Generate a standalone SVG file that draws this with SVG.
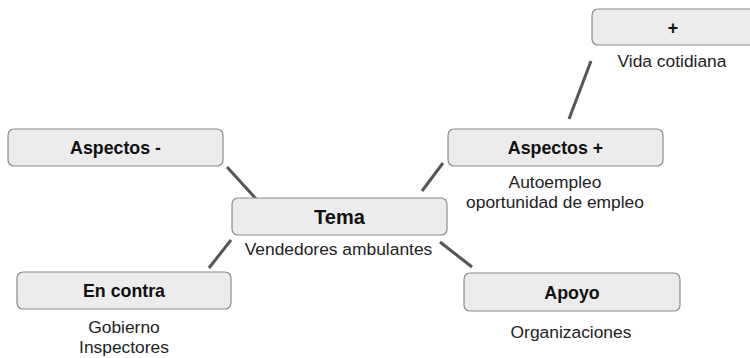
<svg xmlns="http://www.w3.org/2000/svg" width="750" height="358" viewBox="0 0 750 358">
<style>
.box{fill:#ececec;stroke:#8c8c8c;stroke-width:1.2}
.lbl{font-family:"Liberation Sans",Arial,sans-serif;font-weight:bold;font-size:17.8px;fill:#111;text-anchor:middle}
.sub{font-family:"Liberation Sans",Arial,sans-serif;font-size:17.4px;fill:#222;text-anchor:middle}
.con line{stroke:#555;stroke-width:3;stroke-linecap:butt}
</style>
<rect width="750" height="358" fill="#fff"/>
<g class="con" id="connectors">
<line x1="227" y1="167" x2="258" y2="201"/>
<line x1="422" y1="191" x2="443" y2="163"/>
<line x1="569" y1="119" x2="591" y2="61"/>
<line x1="209" y1="268" x2="231" y2="240"/>
<line x1="440" y1="242" x2="472" y2="267"/>
</g>
<g id="tema">
<rect class="box" x="232" y="198" width="215" height="37" rx="6"/>
<text class="lbl" x="339.5" y="224" style="font-size:20px">Tema</text>
<text class="sub" x="338.5" y="255">Vendedores ambulantes</text>
</g>
<g id="aspectos-neg">
<rect class="box" x="8" y="129" width="215" height="37" rx="6"/>
<text class="lbl" x="115.5" y="153.5">Aspectos -</text>
</g>
<g id="aspectos-pos">
<rect class="box" x="448" y="129" width="215" height="37" rx="6"/>
<text class="lbl" x="555.5" y="154">Aspectos +</text>
<text class="sub" x="555" y="188">Autoempleo</text>
<text class="sub" x="555" y="207.5">oportunidad de empleo</text>
</g>
<g id="plus">
<rect class="box" x="592" y="9" width="164" height="36" rx="6"/>
<text class="lbl" x="673" y="33.5">+</text>
<text class="sub" x="672" y="67">Vida cotidiana</text>
</g>
<g id="en-contra">
<rect class="box" x="17" y="272" width="214" height="37" rx="6"/>
<text class="lbl" x="124" y="296.5">En contra</text>
<text class="sub" x="124" y="333">Gobierno</text>
<text class="sub" x="124" y="352.5">Inspectores</text>
</g>
<g id="apoyo">
<rect class="box" x="464" y="273" width="216" height="38" rx="6"/>
<text class="lbl" x="572" y="298.5">Apoyo</text>
<text class="sub" x="571" y="338">Organizaciones</text>
</g>
</svg>
